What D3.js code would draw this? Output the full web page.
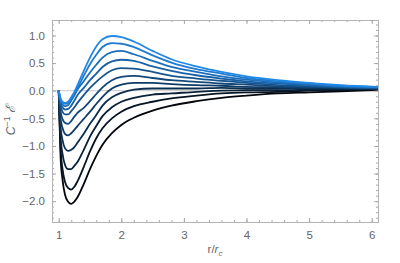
<!DOCTYPE html>
<html>
<head>
<meta charset="utf-8">
<script src="https://cdn.jsdelivr.net/npm/d3@7"></script>
<style>
  body { margin: 0; background: #fff; }
  text { font-family: "Liberation Sans", Arial, sans-serif; }
</style>
</head>
<body>
<svg width="400" height="263"></svg>
<script>
// r / r_c sample points
var rGrid = [1.0, 1.03, 1.06, 1.1, 1.15, 1.2, 1.25, 1.3, 1.4, 1.5, 1.6, 1.7, 1.85, 2.0, 2.2, 2.5, 2.8, 3.2, 3.6, 4.0, 4.5, 5.0, 5.5, 6.1];

// C^-1 E, one curve per parameter value (bottom -> top)
var eps0  = [0, -1.2, -1.6, -1.88, -2.01, -2.05, -2.01, -1.93, -1.69, -1.42, -1.18, -0.98, -0.77, -0.62, -0.49, -0.36, -0.27, -0.19, -0.13, -0.09, -0.05, -0.03, -0.01, 0.01];
var eps1  = [0, -1.05, -1.41, -1.65, -1.76, -1.79, -1.74, -1.64, -1.38, -1.10, -0.86, -0.68, -0.50, -0.38, -0.28, -0.20, -0.14, -0.09, -0.05, -0.03, -0.02, 0.0, 0.01, 0.02];
var eps2  = [0, -0.85, -1.14, -1.34, -1.42, -1.42, -1.36, -1.29, -1.07, -0.83, -0.64, -0.46, -0.30, -0.20, -0.13, -0.07, -0.05, -0.02, 0.0, 0.01, 0.01, 0.02, 0.03, 0.03];
var eps3  = [0, -0.66, -0.89, -1.04, -1.09, -1.07, -1.02, -0.94, -0.78, -0.60, -0.44, -0.27, -0.12, -0.04, 0.02, 0.04, 0.04, 0.04, 0.05, 0.04, 0.04, 0.04, 0.04, 0.035];
var eps4  = [0, -0.50, -0.67, -0.78, -0.81, -0.77, -0.71, -0.64, -0.51, -0.38, -0.24, -0.11, 0.04, 0.11, 0.14, 0.14, 0.12, 0.10, 0.09, 0.07, 0.06, 0.05, 0.05, 0.04];
var eps5  = [0, -0.37, -0.51, -0.58, -0.60, -0.55, -0.47, -0.40, -0.31, -0.19, -0.06, 0.06, 0.19, 0.25, 0.27, 0.23, 0.19, 0.16, 0.13, 0.11, 0.08, 0.07, 0.055, 0.045];
var eps6  = [0, -0.27, -0.38, -0.43, -0.43, -0.37, -0.30, -0.22, -0.08, 0.05, 0.16, 0.26, 0.37, 0.41, 0.40, 0.34, 0.27, 0.22, 0.18, 0.14, 0.10, 0.08, 0.06, 0.05];
var eps7  = [0, -0.22, -0.30, -0.34, -0.33, -0.27, -0.18, -0.08, 0.05, 0.19, 0.31, 0.43, 0.53, 0.56, 0.54, 0.44, 0.36, 0.28, 0.22, 0.17, 0.13, 0.10, 0.07, 0.055];
var eps8  = [0, -0.18, -0.25, -0.28, -0.26, -0.18, -0.09, 0.02, 0.17, 0.33, 0.47, 0.60, 0.70, 0.72, 0.66, 0.54, 0.43, 0.34, 0.26, 0.20, 0.15, 0.11, 0.08, 0.06];
var eps9  = [0, -0.15, -0.22, -0.24, -0.22, -0.14, -0.04, 0.05, 0.27, 0.48, 0.65, 0.79, 0.86, 0.85, 0.79, 0.64, 0.51, 0.39, 0.31, 0.23, 0.17, 0.13, 0.09, 0.065];
var eps10 = [0, -0.14, -0.20, -0.22, -0.20, -0.12, -0.02, 0.10, 0.36, 0.60, 0.80, 0.93, 0.99, 0.97, 0.89, 0.72, 0.57, 0.44, 0.34, 0.26, 0.19, 0.14, 0.10, 0.07];

var series = [eps0, eps1, eps2, eps3, eps4, eps5, eps6, eps7, eps8, eps9, eps10];

var xTicks = [1, 2, 3, 4, 5, 6];
var yTicks = [-2.0, -1.5, -1.0, -0.5, 0.0, 0.5, 1.0];

var svg = d3.select("svg");
var pl = 52, pr = 378, pt = 20, pb = 222;

var x = d3.scaleLinear().domain([0.893, 6.1]).range([pl, pr]);
var y = d3.scaleLinear().domain([-2.377, 1.28]).range([pb, pt]);

var color = d3.scaleLinear().domain([0, series.length - 1])
    .range(["#03070d", "#2288e6"]).interpolate(d3.interpolateRgb);

var fmt = function(d) { return d3.format(".1f")(d).replace("-", "\u2212"); };

svg.append("clipPath").attr("id", "clip")
  .append("rect").attr("x", pl).attr("y", pt)
  .attr("width", pr - pl).attr("height", pb - pt);

// zero line
svg.append("line")
  .attr("x1", pl).attr("x2", pr)
  .attr("y1", y(0)).attr("y2", y(0))
  .attr("stroke", "#c8c8c8").attr("stroke-width", 1);

var line = d3.line()
    .x(function(d, i) { return x(rGrid[i]); })
    .y(function(d) { return y(d); })
    .curve(d3.curveMonotoneX);

svg.append("g").attr("clip-path", "url(#clip)")
  .selectAll("path").data(series).enter().append("path")
  .attr("d", line)
  .attr("fill", "none")
  .attr("stroke", function(d, i) { return color(i); })
  .attr("stroke-width", 1.8)
  .attr("stroke-linejoin", "round");

// frame axes, ticks inward
function styleAxis(g) {
  g.select(".domain").attr("stroke", "#b4b4b4");
  g.selectAll(".tick line").attr("stroke", "#a8a8a8");
  g.selectAll(".tick text").attr("fill", "#666").style("font-size", "11.5px");
}

var xMinor = d3.range(0.9, 6.11, 0.1).filter(function(v) { return Math.abs(v * 5 - Math.round(v * 5)) < 1e-6; });
var yMinor = d3.range(-2.3, 1.25, 0.1);

svg.append("g").attr("transform", "translate(0," + pb + ")")
  .call(d3.axisBottom(x).tickValues(xMinor).tickSize(-2).tickFormat("").tickSizeOuter(0)).call(styleAxis);
svg.append("g").attr("transform", "translate(0," + pb + ")")
  .call(d3.axisBottom(x).tickValues(xTicks).tickSize(-4).tickPadding(9).tickFormat(d3.format("d")).tickSizeOuter(0))
  .call(styleAxis);
svg.append("g").attr("transform", "translate(0," + pt + ")")
  .call(d3.axisTop(x).tickValues(xMinor).tickSize(-2).tickFormat("").tickSizeOuter(0)).call(styleAxis);
svg.append("g").attr("transform", "translate(0," + pt + ")")
  .call(d3.axisTop(x).tickValues(xTicks).tickSize(-4).tickFormat("").tickSizeOuter(0)).call(styleAxis);

svg.append("g").attr("transform", "translate(" + pl + ",0)")
  .call(d3.axisLeft(y).tickValues(yMinor).tickSize(-2).tickFormat("").tickSizeOuter(0)).call(styleAxis);
svg.append("g").attr("transform", "translate(" + pl + ",0)")
  .call(d3.axisLeft(y).tickValues(yTicks).tickSize(-4).tickPadding(7).tickFormat(fmt).tickSizeOuter(0))
  .call(styleAxis);
svg.append("g").attr("transform", "translate(" + pr + ",0)")
  .call(d3.axisRight(y).tickValues(yMinor).tickSize(-2).tickFormat("").tickSizeOuter(0)).call(styleAxis);
svg.append("g").attr("transform", "translate(" + pr + ",0)")
  .call(d3.axisRight(y).tickValues(yTicks).tickSize(-4).tickFormat("").tickSizeOuter(0)).call(styleAxis);

// axis labels
var xl = svg.append("text")
  .attr("x", (pl + pr) / 2).attr("y", 253)
  .attr("text-anchor", "middle").attr("fill", "#666").style("font-size", "11.5px");
xl.append("tspan").text("r/");
xl.append("tspan").style("font-style", "italic").text("r");
xl.append("tspan").style("font-style", "italic").style("font-size", "8px").attr("dy", 3).text("c");

var yl = svg.append("text")
  .attr("transform", "translate(15," + 120 + ") rotate(-90)")
  .attr("text-anchor", "middle").attr("fill", "#666").style("font-size", "12.5px");
yl.append("tspan").style("font-style", "italic").text("C");
yl.append("tspan").style("font-size", "8.5px").attr("dy", -5).text("\u22121");
yl.append("tspan").attr("dy", 5).attr("dx", 4).style("font-family", "DejaVu Serif").style("font-style", "italic").style("font-size", "13px").text("\u2130");
</script>
</body>
</html>
